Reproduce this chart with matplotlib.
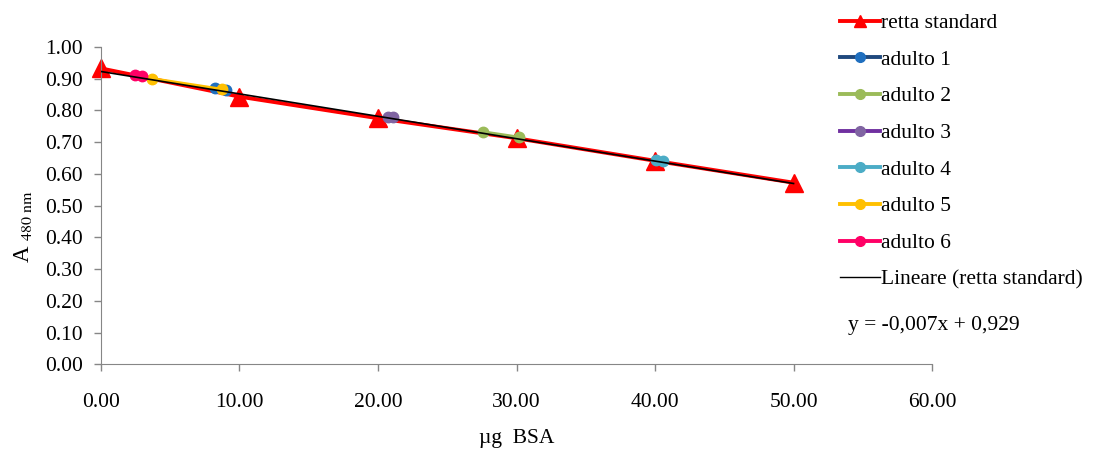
import numpy as np
import matplotlib
matplotlib.use("Agg")
import matplotlib.pyplot as plt
from matplotlib.lines import Line2D

plt.rcParams["font.family"] = ["Liberation Serif", "DejaVu Serif"]
plt.rcParams["mathtext.fontset"] = "stix"

# standard curve (retta standard)
std_x = [0, 10, 20, 30, 40, 50]
std_y = [0.932, 0.843, 0.775, 0.712, 0.641, 0.572]

# samples, two readings each
names = ["adulto 1", "adulto 2", "adulto 3", "adulto 4", "adulto 5", "adulto 6"]
samples_x = [[8.23, 9.0], [27.6, 30.2], [20.75, 21.05], [40.1, 40.6], [3.66, 8.75], [2.45, 2.94]]
samples_y = [[0.869, 0.864], [0.732, 0.715], [0.780, 0.778], [0.643, 0.641], [0.900, 0.866], [0.911, 0.909]]
line_colors = ["#1F497D", "#9BBB59", "#7030A0", "#4BACC6", "#FFC000", "#FF0066"]
marker_colors = ["#1F6FBF", "#9BBB59", "#8064A2", "#4BACC6", "#FFC000", "#FF0066"]

x_ticks = [0, 10, 20, 30, 40, 50, 60]
y_ticks = [0.0, 0.1, 0.2, 0.3, 0.4, 0.5, 0.6, 0.7, 0.8, 0.9, 1.0]

fs = 15.5

fig = plt.figure(figsize=(10.94, 4.5), dpi=100)
ax = fig.add_axes([0.0923, 0.1904, 0.852 - 0.0923, 0.896 - 0.1904])

ax.plot(std_x, std_y, color="#FF0000", lw=2.8, marker="^", markersize=13,
        zorder=2, clip_on=False)
for i in range(len(names)):
    ax.plot(samples_x[i], samples_y[i], color=line_colors[i], lw=2.2, marker="o",
            markersize=7.5, markerfacecolor=marker_colors[i],
            markeredgecolor=marker_colors[i], zorder=3)

# linear trendline
slope, intercept = np.polyfit(std_x, std_y, 1)
fit_x = np.array([std_x[0], std_x[-1]])
ax.plot(fit_x, slope * fit_x + intercept, color="black", lw=1.2, zorder=4)

ax.set_xlim(0, 60)
ax.set_ylim(0, 1.0)
ax.set_xticks(x_ticks)
ax.set_yticks(y_ticks)
ax.set_xticklabels([f"{v:.2f}" for v in x_ticks])
ax.set_yticklabels([f"{v:.2f}" for v in y_ticks])
ax.tick_params(axis="both", labelsize=fs, color="#868686", length=5, width=1)
ax.tick_params(axis="x", pad=16)
ax.tick_params(axis="y", pad=8)
for s in ["top", "right"]:
    ax.spines[s].set_visible(False)
for s in ["left", "bottom"]:
    ax.spines[s].set_color("#868686")

ax.set_xlabel("µg  BSA", fontsize=fs, labelpad=12)
ax.set_ylabel(r"A $_{\mathrm{480\ nm}}$", fontsize=fs + 1)
ax.yaxis.set_label_coords(-0.080, 0.435)

handles = [Line2D([], [], color="#FF0000", lw=2.8, marker="^", markersize=9)]
for i in range(len(names)):
    handles.append(Line2D([], [], color=line_colors[i], lw=2.8, marker="o",
                          markersize=7, markerfacecolor=marker_colors[i],
                          markeredgecolor=marker_colors[i]))
handles.append(Line2D([], [], color="black", lw=1))
labels = ["retta standard"] + names + ["Lineare (retta standard)"]
fig.legend(handles, labels, loc="upper left", bbox_to_anchor=(0.760, 0.99),
           frameon=False, fontsize=fs, labelspacing=0.77, handlelength=1.85,
           handletextpad=0.05, borderaxespad=0)

fig.text(0.775, 0.267, "y = -0,007x + 0,929", fontsize=fs)

fig.savefig("out.png", dpi=100)
